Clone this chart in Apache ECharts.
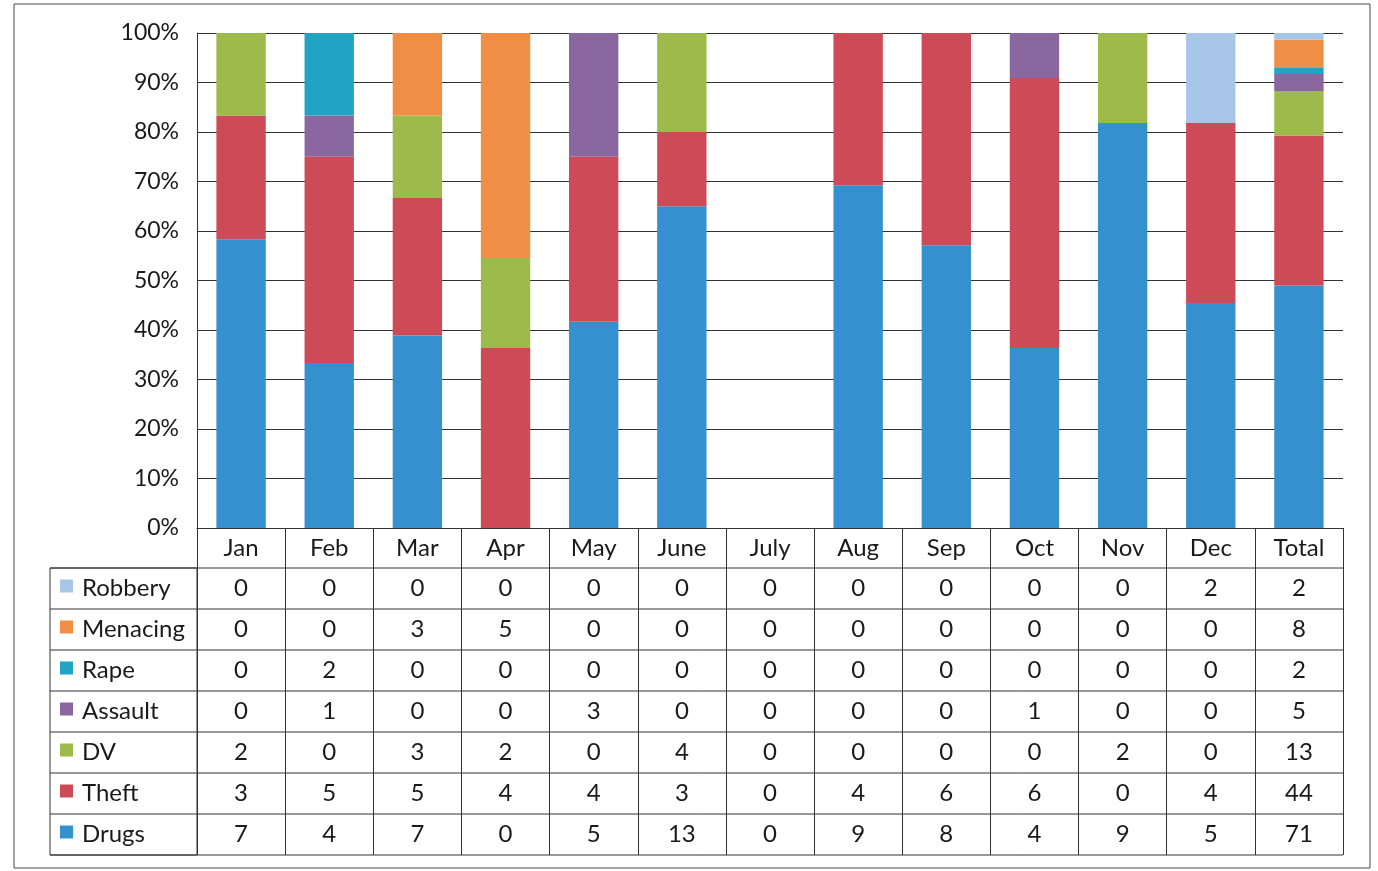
<!DOCTYPE html>
<html lang="en">
<head>
    <meta charset="UTF-8">
    <title>Incidents by month</title>
    <script type="text/javascript" src="https://cdn.jsdelivr.net/npm/echarts@6/dist/echarts.min.js"></script>
    <style>
        body { margin: 0; background: #fff; }
        #chart { width: 1378px; height: 871px; }
    </style>
</head>
<body>
<div id="chart"></div>
<script type="text/javascript">
    var months = ['Jan', 'Feb', 'Mar', 'Apr', 'May', 'June', 'July', 'Aug', 'Sep', 'Oct', 'Nov', 'Dec', 'Total'];

    // counts per month (last value = total), table order top to bottom
    var robbery  = [0, 0, 0, 0, 0, 0, 0, 0, 0, 0, 0, 2, 2];
    var menacing = [0, 0, 3, 5, 0, 0, 0, 0, 0, 0, 0, 0, 8];
    var rape     = [0, 2, 0, 0, 0, 0, 0, 0, 0, 0, 0, 0, 2];
    var assault  = [0, 1, 0, 0, 3, 0, 0, 0, 0, 1, 0, 0, 5];
    var dv       = [2, 0, 3, 2, 0, 4, 0, 0, 0, 0, 2, 0, 13];
    var theft    = [3, 5, 5, 4, 4, 3, 0, 4, 6, 6, 0, 4, 44];
    var drugs    = [7, 4, 7, 0, 5, 13, 0, 9, 8, 4, 9, 5, 71];

    var yTicks = [0, 10, 20, 30, 40, 50, 60, 70, 80, 90, 100];

    var rows = [
        {name: 'Robbery', data: robbery, color: '#a8c6e8'},
        {name: 'Menacing', data: menacing, color: '#f08e45'},
        {name: 'Rape', data: rape, color: '#21a4c3'},
        {name: 'Assault', data: assault, color: '#8b67a0'},
        {name: 'DV', data: dv, color: '#9dbb4a'},
        {name: 'Theft', data: theft, color: '#cd4b56'},
        {name: 'Drugs', data: drugs, color: '#3490cf'}
    ];

    var FONT = 'Lato, "Open Sans", sans-serif';
    var TXT = '#1a1a1a';
    var plotLeft = 197, plotRight = 1343, plotTop = 33, plotBottom = 528;
    var tableLeft = 50, rowH = 41, headH = 40;
    var tableTop = plotBottom + headH;
    var tableBottom = tableTop + rowH * rows.length;

    // column totals for the 100% stack
    var colTotals = months.map(function (m, i) {
        var s = 0;
        rows.forEach(function (r) { s += r.data[i]; });
        return s;
    });

    // stack from bottom (Drugs) to top (Robbery)
    var series = rows.slice().reverse().map(function (r) {
        return {
            name: r.name,
            type: 'bar',
            stack: 'all',
            barWidth: '56%',
            itemStyle: {color: r.color},
            data: r.data.map(function (v, i) {
                return colTotals[i] ? v / colTotals[i] * 100 : 0;
            })
        };
    });

    var myChart = echarts.init(document.getElementById('chart'));
    var option = {
        animation: false,
        backgroundColor: '#fff',
        grid: {left: plotLeft, right: 1378 - plotRight, top: plotTop, bottom: 871 - plotBottom},
        xAxis: {
            type: 'category',
            data: months,
            axisLine: {lineStyle: {color: '#333', width: 1}},
            axisTick: {show: true, length: tableBottom - plotBottom, lineStyle: {color: '#333', width: 1}},
            axisLabel: {color: TXT, fontSize: 24, fontFamily: FONT, margin: 8, interval: 0}
        },
        yAxis: {
            type: 'value',
            min: yTicks[0],
            max: yTicks[yTicks.length - 1],
            interval: 10,
            axisLine: {show: true, lineStyle: {color: '#333', width: 1}},
            axisTick: {show: false},
            axisLabel: {formatter: '{value}%', color: TXT, fontSize: 23, fontFamily: FONT, margin: 18},
            splitLine: {lineStyle: {color: '#333', width: 1}}
        },
        series: series
    };
    myChart.setOption(option);

    // data table under the plot
    var g = [];
    g.push({
        type: 'rect', shape: {x: 14, y: 4, width: 1356, height: 864},
        style: {fill: 'none', stroke: '#444', lineWidth: 1}, z: 0
    });
    g.push({
        type: 'rect', shape: {x: tableLeft, y: tableTop, width: plotLeft - tableLeft, height: tableBottom - tableTop},
        style: {fill: 'none', stroke: '#333', lineWidth: 1}
    });
    for (var k = 0; k <= rows.length; k++) {
        var y = tableTop + k * rowH;
        g.push({
            type: 'line', shape: {x1: tableLeft, y1: y, x2: plotRight, y2: y},
            style: {stroke: '#333', lineWidth: 1}
        });
    }
    rows.forEach(function (r, k) {
        var cy = tableTop + k * rowH + rowH / 2;
        g.push({
            type: 'rect', shape: {x: 60, y: cy - 9, width: 13, height: 13},
            style: {fill: r.color}
        });
        g.push({
            type: 'text', x: 82, y: cy,
            style: {text: r.name, font: '24px ' + FONT, fill: TXT, verticalAlign: 'middle', align: 'left'}
        });
        r.data.forEach(function (v, i) {
            var cx = myChart.convertToPixel({xAxisIndex: 0}, i);
            g.push({
                type: 'text', x: cx, y: cy,
                style: {text: String(v), font: '24px ' + FONT, fill: TXT, verticalAlign: 'middle', align: 'center'}
            });
        });
    });
    myChart.setOption({graphic: g});
</script>
</body>
</html>
